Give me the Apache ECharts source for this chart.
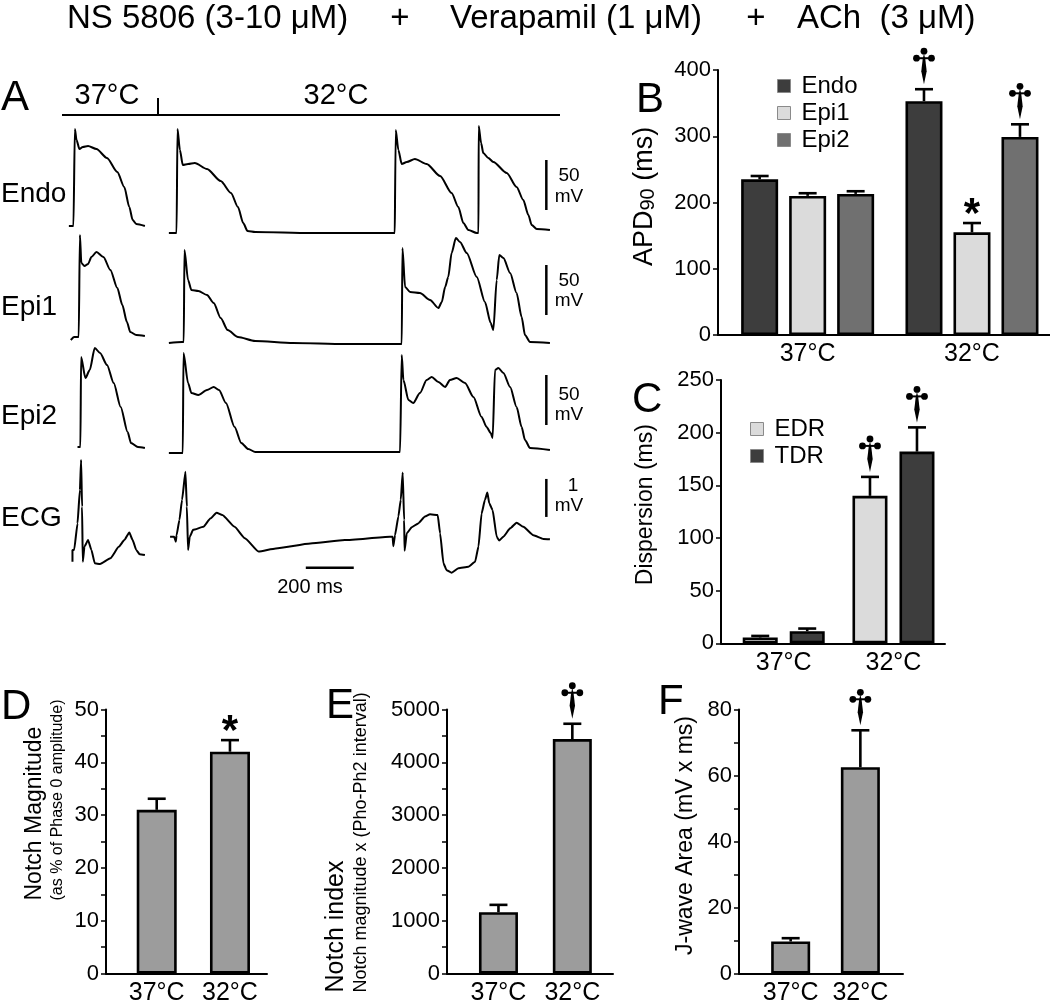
<!DOCTYPE html>
<html>
<head>
<meta charset="utf-8">
<script src="https://cdn.jsdelivr.net/npm/echarts@6/dist/echarts.min.js"></script>
<style>
html,body{margin:0;padding:0;background:#fff;}
#chart{width:1050px;height:1005px;}
</style>
</head>
<body>
<div id="chart"></div>
<script>
// ---------------- DATA ----------------
// Panel A traces: [time (ms), membrane potential (mV) or ECG (mV)]
const endo37 = [[37,-76],[56,-76],[62,21],[69,10],[81,1],[95,3],[117,4],[152,1],[196,-8],[239,-22],[268,-37],[289,-57],[303,-70],[318,-74],[354,-76]];
const endo32 = [[454,-83],[486,-83],[490,21],[500,0],[512,-15],[534,-14],[562,-13],[613,-19],[670,-31],[713,-43],[742,-57],[764,-73],[782,-81],[814,-82],[1044,-83],[1396,-83],
  [1397,-83],[1400,20],[1411,0],[1425,-14],[1446,-12],[1480,-9],[1529,-14],[1585,-26],[1633,-43],[1661,-57],[1682,-73],[1703,-80],[1738,-83],
  [1745,-83],[1746,24],[1756,7],[1765,-3],[1786,-8],[1807,-12],[1863,-23],[1904,-37],[1932,-50],[1953,-65],[1967,-75],[1988,-79],[2043,-80]];
const epi1_37 = [[45,-85],[59,-82],[78,-82],[83,20],[89,-8],[102,-11],[117,-9],[131,-2],[152,3],[181,-2],[210,-15],[239,-33],[260,-50],[279,-67],[293,-77],[318,-80],[354,-81]];
const epi1_32 = [[454,-88],[509,-87],[516,-87],[519,5],[534,-25],[548,-35],[577,-36],[613,-40],[641,-48],[670,-63],[699,-75],[742,-82],[814,-86],[972,-88],[1188,-89],[1410,-89],
  [1425,-89],[1428,7],[1439,-32],[1460,-37],[1501,-38],[1543,-45],[1578,-53],[1592,-47],[1606,-32],[1619,-22],[1633,2],[1651,17],[1668,13],[1696,2],[1738,-22],[1772,-47],[1796,-68],[1807,-75],[1821,-25],[1832,0],[1849,-3],[1877,-18],[1904,-38],[1925,-62],[1939,-80],[1960,-87],[2043,-88]];
const epi2_37 = [[73,-82],[85,-82],[88,8],[106,-13],[124,-5],[145,17],[167,12],[196,0],[224,-18],[253,-42],[282,-67],[296,-78],[325,-82],[354,-83]];
const epi2_32 = [[454,-88],[509,-88],[512,-88],[515,12],[534,-18],[548,-28],[577,-30],[613,-25],[641,-22],[663,-25],[692,-38],[728,-62],[756,-78],[785,-84],[814,-87],[1100,-87],[1418,-87],
  [1425,10],[1432,-15],[1453,-35],[1473,-38],[1501,-28],[1529,-15],[1550,-12],[1578,-17],[1606,-22],[1626,-15],[1654,-13],[1689,-18],[1724,-32],[1758,-52],[1779,-62],[1796,-68],[1804,-73],[1814,-5],[1828,-3],[1849,-8],[1877,-22],[1904,-42],[1925,-62],[1939,-75],[1960,-83],[2043,-85]];
const ecg37 = [[52,-1.81],[52,-1.50],[59,-1.50],[73,-0.80],[83,0.08],[88,0.87],[92,-0.36],[95,-1.81],[102,-1.41],[117,-1.24],[131,-1.50],[145,-1.85],[167,-1.87],[210,-1.72],[246,-1.41],[268,-1.24],[289,-1.04],[303,-1.24],[318,-1.50],[332,-1.61],[354,-1.63]];
const ecg32 = [[459,-1.15],[476,-1.15],[483,-1.28],[486,-1.11],[498,-0.71],[509,-0.18],[523,0.56],[529,-0.36],[534,-1.50],[541,-1.15],[555,-0.97],[598,-0.89],[627,-0.67],[653,-0.52],[677,-0.58],[728,-0.89],[771,-1.19],[828,-1.54],[900,-1.46],[1044,-1.33],[1188,-1.24],[1376,-1.15],[1387,-1.15],
  [1390,-1.40],[1397,-1.11],[1411,-0.62],[1421,-0.18],[1429,0.54],[1435,-0.71],[1437,-1.52],[1446,-1.06],[1467,-0.90],[1494,-0.80],[1522,-0.62],[1543,-0.56],[1575,-0.58],[1585,-1.06],[1599,-1.85],[1612,-2.03],[1633,-2.10],[1661,-1.98],[1703,-1.94],[1731,-1.81],[1745,-1.41],[1758,-0.54],[1772,-0.18],[1782,0.01],[1790,-0.27],[1804,-0.45],[1821,-1.15],[1831,-1.25],[1849,-1.15],[1877,-0.93],[1904,-0.78],[1932,-0.89],[1974,-1.11],[2016,-1.21],[2043,-1.22]];
// scale bars (values)
const apBar = [-60, -10];      // 50 mV
const ecgBar = [-0.63, 0.37];  // 1 mV
const timeBar = [1025, 1225];  // 200 ms

// Panel B: APD90 (ms)
const tempCats = ['37°C', '32°C'];
const apdEndo = [235, 353], apdEndoErr = [5, 18], apdEndoSig = ['', '†'];
const apdEpi1 = [210, 155], apdEpi1Err = [4, 14], apdEpi1Sig = ['', '*'];
const apdEpi2 = [213, 299], apdEpi2Err = [4, 19], apdEpi2Sig = ['', '†'];
const bTicks = [0, 100, 200, 300, 400];
// Panel C: dispersion (ms)
const edr = [5.5, 140], edrErr = [1.5, 18], edrSig = ['', '†'];
const tdr = [11.5, 182], tdrErr = [2.5, 23], tdrSig = ['', '†'];
const cTicks = [0, 50, 100, 150, 200, 250];
// Panel D: notch magnitude (%)
const notchMag = [31, 42], notchMagErr = [2.1, 2.2], notchMagSig = ['', '*'];
const dTicks = [0, 10, 20, 30, 40, 50];
// Panel E: notch index
const notchIdx = [1160, 4440], notchIdxErr = [140, 290], notchIdxSig = ['', '†'];
const eTicks = [0, 1000, 2000, 3000, 4000, 5000];
// Panel F: J-wave area
const jArea = [9.7, 62.5], jAreaErr = [1.0, 11.2], jAreaSig = ['', '†'];
const fTicks = [0, 20, 40, 60, 80];

// ---------------- STYLE / LAYOUT ----------------
const FONT = "'Liberation Sans', Arial, Helvetica, sans-serif";
const BLACK = '#000';
const chart = echarts.init(document.getElementById('chart'), null, {renderer: 'canvas'});

const grids = [
  {left: 60, top: 120, width: 500, height: 125},   // 0 Endo
  {left: 60, top: 235, width: 500, height: 115},   // 1 Epi1
  {left: 60, top: 345, width: 500, height: 115},   // 2 Epi2
  {left: 60, top: 455, width: 500, height: 125.4}, // 3 ECG
  {left: 718, top: 70, width: 332, height: 265},   // 4 B
  {left: 721, top: 380, width: 224, height: 263.3},// 5 C
  {left: 106, top: 709.5, width: 161, height: 264},// 6 D
  {left: 447, top: 709.5, width: 166, height: 264},// 7 E
  {left: 739, top: 709.5, width: 164, height: 264} // 8 F
].map(g => Object.assign({containLabel: false, outerBoundsMode: 'none', show: false}, g));

const traceY = [[-95, 30], [-95, 20], [-95, 20], [-2.3, 1]];
const xAxes = [], yAxes = [];
for (let i = 0; i < 4; i++) {
  xAxes.push({gridIndex: i, type: 'value', min: 0, max: 2085, show: false});
  yAxes.push({gridIndex: i, type: 'value', min: traceY[i][0], max: traceY[i][1], show: false});
}
// bar panels
const catPos = {4: [0.54, 1.53], 5: [0.56, 1.54], 6: [0.63, 1.54], 7: [0.62, 1.51], 8: [0.63, 1.48]};
function barX(gi) {
  const pos = catPos[gi];
  return {
    gridIndex: gi, type: 'value', min: 0, max: 2,
    axisLine: {show: true, onZero: false, lineStyle: {color: BLACK, width: 2}},
    axisTick: {show: false}, splitLine: {show: false},
    axisLabel: {show: true, customValues: pos, color: BLACK, fontSize: 25, fontFamily: FONT, margin: 7,
      formatter: v => { let k = 0, d = 1e9; pos.forEach((p, j) => { if (Math.abs(p - v) < d) { d = Math.abs(p - v); k = j; } }); return tempCats[k]; }}
  };
}
function barY(gi, ticks, minor, name, nameGap, rich, pad) {
  return {
    gridIndex: gi, type: 'value', min: ticks[0], max: ticks[ticks.length - 1], interval: ticks[1] - ticks[0],
    axisLine: {show: true, lineStyle: {color: BLACK, width: 2}},
    axisTick: {show: true, length: 5, lineStyle: {color: BLACK, width: 1.5}},
    minorTick: {show: minor, splitNumber: 2, length: 5, lineStyle: {color: BLACK, width: 1.5}},
    splitLine: {show: false}, minorSplitLine: {show: false},
    axisLabel: {color: BLACK, fontSize: 22, fontFamily: FONT, margin: 7, formatter: v => String(v)},
    name: name, nameLocation: 'middle', nameRotate: 90, nameGap: nameGap,
    nameTextStyle: {color: BLACK, fontFamily: FONT, rich: rich, padding: pad || 0}
  };
}
xAxes.push(barX(4)); yAxes.push(barY(4, bTicks, false, '{a|APD}{s|90}{a| (ms)}', 60,
  {a: {fontSize: 27, fontFamily: FONT, color: BLACK}, s: {fontSize: 20, fontFamily: FONT, color: BLACK, verticalAlign: 'bottom'}}, [0, 0, 0, 12]));
xAxes.push(barX(5)); yAxes.push(barY(5, cTicks, false, '{a|Dispersion (ms)}', 64,
  {a: {fontSize: 23, fontFamily: FONT, color: BLACK}}, [0, 0, 0, 14]));
xAxes.push(barX(6)); yAxes.push(barY(6, dTicks, true, '{a|Notch Magnitude}\n{b|(as % of Phase 0 amplitude)}', 39,
  {a: {fontSize: 23, fontFamily: FONT, color: BLACK, lineHeight: 27, width: 202, align: 'left'},
   b: {fontSize: 16, fontFamily: FONT, color: BLACK, lineHeight: 19, width: 202, align: 'left'}}, [0, 0, 0, 84]));
xAxes.push(barX(7)); yAxes.push(barY(7, eTicks, true, '{a|Notch index}\n{b|Notch magnitude x (Pho-Ph2 interval)}', 75,
  {a: {fontSize: 25, fontFamily: FONT, color: BLACK, lineHeight: 29, width: 302, align: 'left'},
   b: {fontSize: 18, fontFamily: FONT, color: BLACK, lineHeight: 21, width: 302, align: 'left'}}, 0));
xAxes.push(barX(8)); yAxes.push(barY(8, fTicks, true, '{a|J-wave Area (mV x ms)}', 42,
  {a: {fontSize: 23, fontFamily: FONT, color: BLACK}}, [0, 0, 0, 12]));

// ---------------- SERIES ----------------
const series = [];
function trace(gi, data, name, smooth) {
  series.push({type: 'line', name: name, xAxisIndex: gi, yAxisIndex: gi, data: data, showSymbol: false, symbol: 'none',
    smooth: smooth || false, smoothMonotone: 'x',
    lineStyle: {color: BLACK, width: 2}, silent: true, animation: false, clip: false, z: 2});
}
const SM = 0.25;
trace(0, endo37, 'endo37', SM); trace(0, endo32, 'endo32', SM);
trace(1, epi1_37, 'epi1_37', SM); trace(1, epi1_32, 'epi1_32', SM);
trace(2, epi2_37, 'epi2_37', SM); trace(2, epi2_32, 'epi2_32', SM);
trace(3, ecg37, 'ecg37', 0.15); trace(3, ecg32, 'ecg32', 0.15);
// scale bars
const barT = 2028;
[0, 1, 2].forEach(gi => trace(gi, [[barT, apBar[0]], [barT, apBar[1]]], 'sb' + gi));
trace(3, [[barT, ecgBar[0]], [barT, ecgBar[1]]], 'sbecg');
trace(3, [[timeBar[0], -1.97], [timeBar[1], -1.97]], 'sbtime');
series.forEach(s => { if (s.name.indexOf('sb') === 0) s.lineStyle.width = 2.5; });

function dagger(cx, yb) {
  return [
    {type: 'polygon', shape: {points: [[cx, yb], [cx - 2.7, yb - 13], [cx - 1.3, yb - 25], [cx, yb - 31], [cx + 1.3, yb - 25], [cx + 2.7, yb - 13]]}, style: {fill: BLACK}},
    {type: 'line', shape: {x1: cx - 7.5, y1: yb - 26, x2: cx + 7.5, y2: yb - 26}, style: {stroke: BLACK, lineWidth: 2}},
    {type: 'circle', shape: {cx: cx, cy: yb - 33, r: 3.4}, style: {fill: BLACK}},
    {type: 'circle', shape: {cx: cx - 7.5, cy: yb - 26, r: 3.4}, style: {fill: BLACK}},
    {type: 'circle', shape: {cx: cx + 7.5, cy: yb - 26, r: 3.4}, style: {fill: BLACK}}
  ];
}
function errSeries(gi, pos, vals, errs, sigs, offsetPx) {
  series.push({
    type: 'custom', xAxisIndex: gi, yAxisIndex: gi, silent: true, animation: false, clip: false, z: 5,
    data: vals.map((v, i) => [pos[i], v, errs[i]]),
    encode: {x: 0, y: 1},
    renderItem: function (params, api) {
      const x = api.value(0), v = api.value(1), e = api.value(2);
      const b = api.coord([x, v]), t = api.coord([x, v + e]);
      const cx = b[0] + offsetPx, y0 = b[1], y1 = t[1];
      const ch = [
        {type: 'line', shape: {x1: cx, y1: y0, x2: cx, y2: y1}, style: {stroke: BLACK, lineWidth: 2.6}},
        {type: 'line', shape: {x1: cx - 9, y1: y1, x2: cx + 9, y2: y1}, style: {stroke: BLACK, lineWidth: 2.6}}
      ];
      const m = sigs[params.dataIndex];
      if (m === '†') dagger(cx, y1 - 5).forEach(c => ch.push(c));
      else if (m === '*') ch.push({type: 'text', style: {text: '*', x: cx, y: y1 - 8, align: 'center', verticalAlign: 'middle',
        fontSize: 42, fontWeight: 'bold', fontFamily: FONT, fill: BLACK}});
      return {type: 'group', children: ch};
    }
  });
}
function bars(gi, name, vals, color, width, gap) {
  series.push({type: 'bar', name: name, xAxisIndex: gi, yAxisIndex: gi, barWidth: width, barGap: gap,
    data: vals.map((v, i) => [catPos[gi][i], v]),
    itemStyle: {color: color, borderColor: BLACK, borderWidth: 2.6}, silent: true, animation: false, z: 3});
}
// B
const bW = 37, bGap = 11;
bars(4, 'Endo', apdEndo, '#3d3d3d', bW, (bGap / bW * 100) + '%');
bars(4, 'Epi1', apdEpi1, '#dbdbdb', bW, (bGap / bW * 100) + '%');
bars(4, 'Epi2', apdEpi2, '#707070', bW, (bGap / bW * 100) + '%');
errSeries(4, catPos[4], apdEndo, apdEndoErr, apdEndoSig, -(bW + bGap));
errSeries(4, catPos[4], apdEpi1, apdEpi1Err, apdEpi1Sig, 0);
errSeries(4, catPos[4], apdEpi2, apdEpi2Err, apdEpi2Sig, (bW + bGap));
// C
const cW = 35, cGap = 12;
bars(5, 'EDR', edr, '#dbdbdb', cW, (cGap / cW * 100) + '%');
bars(5, 'TDR', tdr, '#3d3d3d', cW, (cGap / cW * 100) + '%');
errSeries(5, catPos[5], edr, edrErr, edrSig, -(cW + cGap) / 2);
errSeries(5, catPos[5], tdr, tdrErr, tdrSig, (cW + cGap) / 2);
// D, E, F
bars(6, 'NotchMag', notchMag, '#9c9c9c', 40, '0%');
errSeries(6, catPos[6], notchMag, notchMagErr, notchMagSig, 0);
bars(7, 'NotchIdx', notchIdx, '#9c9c9c', 39, '0%');
errSeries(7, catPos[7], notchIdx, notchIdxErr, notchIdxSig, 0);
bars(8, 'JArea', jArea, '#9c9c9c', 39, '0%');
errSeries(8, catPos[8], jArea, jAreaErr, jAreaSig, 0);

// ---------------- TEXT / DECORATION ----------------
function txt(x, y, text, size, align, extra) {
  return Object.assign({type: 'text', x: x, y: y, silent: true,
    style: {text: text, fontSize: size, fontFamily: FONT, fill: BLACK, align: align || 'left', verticalAlign: 'middle'}}, extra || {});
}
const graphic = [
  txt(67, 19, 'NS 5806 (3-10 μM)', 33),
  txt(400, 19, '+', 33, 'center'),
  txt(450, 19, 'Verapamil (1 μM)', 33),
  txt(756, 19, '+', 33, 'center'),
  txt(797, 19, 'ACh  (3 μM)', 33),
  txt(1, 98, 'A', 42), txt(636, 100, 'B', 42), txt(632, 400, 'C', 42),
  txt(1, 707, 'D', 42), txt(326, 706, 'E', 42), txt(658, 702, 'F', 42),
  txt(107, 96, '37°C', 29, 'center'), txt(336, 96, '32°C', 29, 'center'),
  {type: 'line', silent: true, shape: {x1: 62, y1: 115, x2: 560, y2: 115}, style: {stroke: BLACK, lineWidth: 2}},
  {type: 'line', silent: true, shape: {x1: 158, y1: 98, x2: 158, y2: 115}, style: {stroke: BLACK, lineWidth: 2}},
  txt(1, 194, 'Endo', 28), txt(1, 307, 'Epi1', 28), txt(1, 416, 'Epi2', 28), txt(1, 518, 'ECG', 28),
  txt(569, 176, '50', 19, 'center'), txt(569, 197, 'mV', 19, 'center'),
  txt(569, 281, '50', 19, 'center'), txt(569, 301, 'mV', 19, 'center'),
  txt(569, 395, '50', 19, 'center'), txt(569, 415, 'mV', 19, 'center'),
  txt(573, 486, '1', 19, 'center'), txt(569, 506, 'mV', 19, 'center'),
  txt(310, 587, '200 ms', 20, 'center')
];

const legendCommon = {orient: 'vertical', icon: 'rect', itemWidth: 13, itemHeight: 13, itemGap: 3, selectedMode: false,
  textStyle: {fontSize: 24, fontFamily: FONT, color: BLACK, padding: [0, 0, 0, 6]},
  itemStyle: {borderColor: '#8a8a8a', borderWidth: 1}};
const option = {
  backgroundColor: '#fff',
  animation: false,
  grid: grids,
  xAxis: xAxes,
  yAxis: yAxes,
  legend: [
    Object.assign({}, legendCommon, {left: 772, top: 69, data: ['Endo', 'Epi1', 'Epi2']}),
    Object.assign({}, legendCommon, {left: 745, top: 412, data: ['EDR', 'TDR']})
  ],
  tooltip: {show: false},
  series: series,
  graphic: graphic
};
chart.setOption(option);
</script>
</body>
</html>
